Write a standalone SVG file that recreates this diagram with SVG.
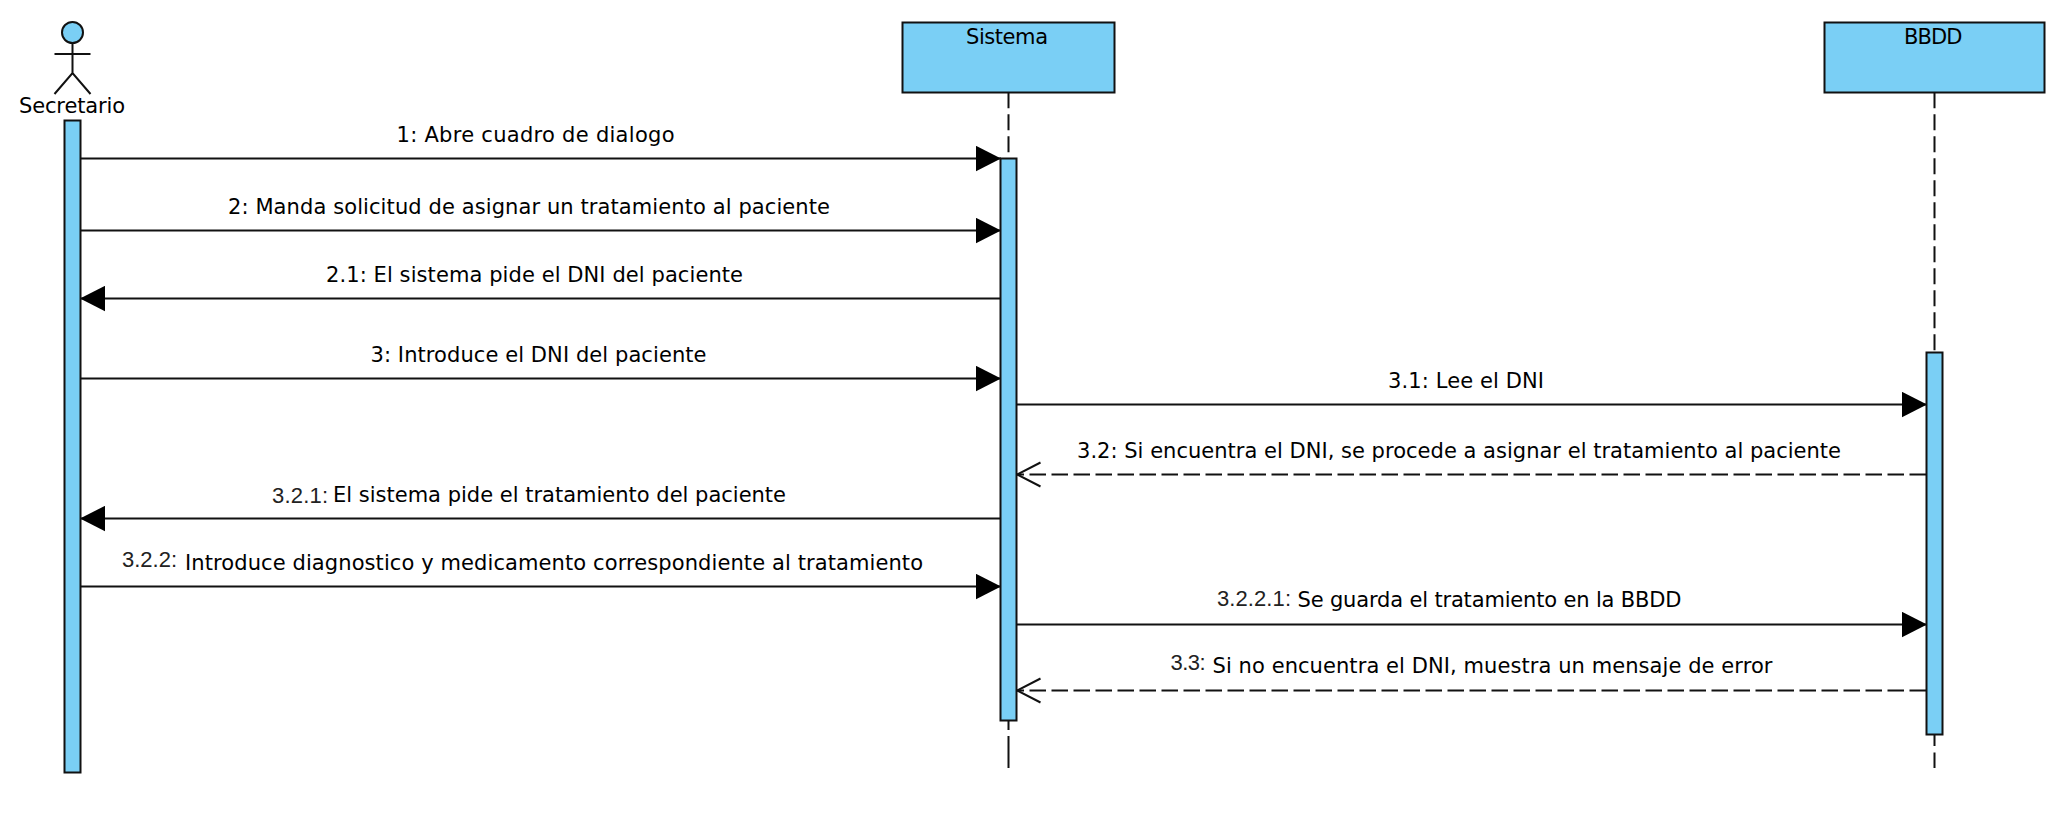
<svg xmlns="http://www.w3.org/2000/svg" width="2068" height="824" viewBox="0 0 2068 824">
<style>
.box{fill:#7acff5;stroke:#111;stroke-width:2}
.stick{fill:none;stroke:#111;stroke-width:2}
.life{stroke:#111;stroke-width:2;stroke-dasharray:16 6;fill:none}
.solidlife{stroke:#111;stroke-width:2;fill:none}
.msg{stroke:#111;stroke-width:2;fill:none}
.ret{stroke:#111;stroke-width:2;stroke-dasharray:16.500 5.500;fill:none}
text{font-family:"DejaVu Sans","Liberation Sans",sans-serif;font-size:21px;fill:#000}
.n{font-family:"Liberation Sans",Arial,sans-serif;font-size:22px;fill:#222}
</style>
<defs>
<marker id="solid" markerUnits="userSpaceOnUse" markerWidth="26" markerHeight="26" refX="25" refY="13" orient="auto"><path d="M0 0.300L25 13L0 25.700Z" fill="#000"/></marker>
<marker id="open" markerUnits="userSpaceOnUse" markerWidth="26" markerHeight="28" refX="24.500" refY="14" orient="auto"><path d="M1 2L24.500 14L1 26" fill="none" stroke="#111" stroke-width="2"/></marker>
</defs>
<g id="connectors">
<path class="life" d="M1008.500 92.300V158"/>
<path class="solidlife" d="M1008.500 721V730M1008.500 736V768"/>
<path class="life" d="M1934.500 92.300V352"/>
<path class="solidlife" d="M1934.500 735V746M1934.500 752.500V768"/>
<path class="msg" marker-end="url(#solid)" d="M81 158.500H1001"/>
<path class="msg" marker-end="url(#solid)" d="M81 230.500H1001"/>
<path class="msg" marker-end="url(#solid)" d="M1000 298.500H80"/>
<path class="msg" marker-end="url(#solid)" d="M81 378.500H1001"/>
<path class="msg" marker-end="url(#solid)" d="M1017 404.500H1927"/>
<path class="ret" marker-end="url(#open)" d="M1926 474.500H1017"/>
<path class="msg" marker-end="url(#solid)" d="M1000 518.500H80"/>
<path class="msg" marker-end="url(#solid)" d="M81 586.500H1001"/>
<path class="msg" marker-end="url(#solid)" d="M1017 624.500H1927"/>
<path class="ret" marker-end="url(#open)" d="M1926 690.500H1017"/>
</g>
<g id="secretario">
<circle class="box" cx="72.500" cy="32.500" r="10.500"/>
<path class="stick" d="M72.500 43V73M54.500 54H90.500M54.500 94L72.500 73L90.500 94"/>
<text x="19" y="113" textLength="106">Secretario</text>
<rect class="box" x="64.500" y="120.500" width="16" height="652"/>
</g>
<g id="sistema">
<rect class="box" x="902.500" y="22.500" width="212" height="70"/>
<text x="966" y="44" textLength="82">Sistema</text>
<rect class="box" x="1000.500" y="158.500" width="16" height="562"/>
</g>
<g id="bbdd">
<rect class="box" x="1824.500" y="22.500" width="220" height="70"/>
<text x="1904" y="44" textLength="58.500">BBDD</text>
<rect class="box" x="1926.500" y="352.500" width="16" height="382"/>
</g>
<g id="labels">
<text x="396.500" y="141.500" textLength="278">1: Abre cuadro de dialogo</text>
<text x="228" y="213.500" textLength="602">2: Manda solicitud de asignar un tratamiento al paciente</text>
<text x="326" y="281.500" textLength="417">2.1: El sistema pide el DNI del paciente</text>
<text x="370.500" y="361.500" textLength="336">3: Introduce el DNI del paciente</text>
<text x="1388" y="387.500" textLength="156">3.1: Lee el DNI</text>
<text x="1077" y="457.500" textLength="764">3.2: Si encuentra el DNI, se procede a asignar el tratamiento al paciente</text>
<text class="n" x="272" y="503" textLength="56">3.2.1:</text>
<text x="333" y="501.500" textLength="453">El sistema pide el tratamiento del paciente</text>
<text class="n" x="122" y="566.500" textLength="55">3.2.2:</text>
<text x="185" y="569.500" textLength="738">Introduce diagnostico y medicamento correspondiente al tratamiento</text>
<text class="n" x="1217" y="606" textLength="74">3.2.2.1:</text>
<text x="1297.500" y="607" textLength="384">Se guarda el tratamiento en la BBDD</text>
<text class="n" x="1170.500" y="670" textLength="35">3.3:</text>
<text x="1212.500" y="673" textLength="560">Si no encuentra el DNI, muestra un mensaje de error</text>
</g>
</svg>
